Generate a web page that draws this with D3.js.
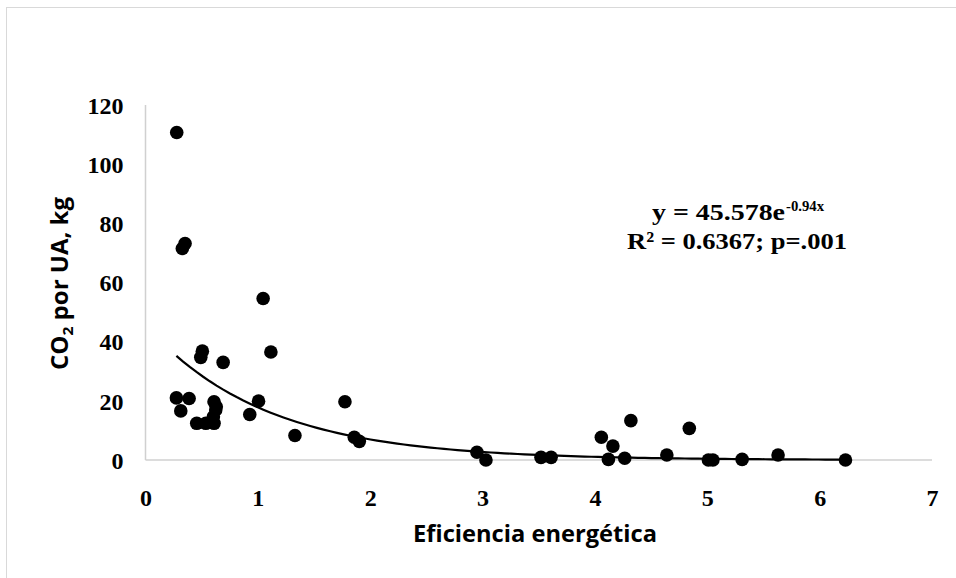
<!DOCTYPE html>
<html>
<head>
<meta charset="utf-8">
<script src="https://cdn.jsdelivr.net/npm/d3@7"></script>
<style>
  body { margin: 0; background: #fff; }
  svg { display: block; }
  .serif { font-family: "Liberation Serif", "Times New Roman", serif; font-weight: bold; }
  .sans { font-family: "Open Sans", "Noto Sans", sans-serif; font-weight: bold; }
</style>
</head>
<body>
<div id="chart"></div>
<script>
// eficiencia energética (x) vs CO2 por UA, kg (y)
const effValues = [0.278, 0.352, 0.328, 1.047, 0.506, 0.492, 0.691, 1.116, 0.275, 0.388,
  0.314, 0.61, 0.63, 0.625, 0.604, 0.456, 0.537, 0.61, 1.006, 0.928,
  1.33, 1.775, 1.858, 1.903, 2.95, 3.03, 3.52, 3.61, 4.057, 4.16,
  4.32, 4.12, 4.265, 4.64, 4.84, 5.01, 5.05, 5.31, 5.63, 6.23];
const co2Values = [110.7, 73.2, 71.5, 54.6, 36.8, 34.7, 33.0, 36.5, 21.0, 20.8,
  16.6, 19.7, 18.0, 16.9, 14.6, 12.4, 12.4, 12.4, 19.9, 15.4,
  8.3, 19.7, 7.7, 6.3, 2.6, 0, 0.9, 0.9, 7.7, 4.7,
  13.3, 0.2, 0.6, 1.7, 10.7, 0, 0, 0.2, 1.7, 0];
const xTicks = [0, 1, 2, 3, 4, 5, 6, 7];
const yTicks = [0, 20, 40, 60, 80, 100, 120];
// trendline y = a * e^(b x)
const trendA = 45.578;
const trendB = -0.94;

const width = 956, height = 578;
const svg = d3.select("#chart").append("svg")
  .attr("width", width).attr("height", height);

// outer chart border
svg.append("rect")
  .attr("x", 6.5).attr("y", 7.5)
  .attr("width", 1000).attr("height", 1000)
  .attr("fill", "none").attr("stroke", "#d9d9d9");

const xScale = d3.scaleLinear().domain([0, 7]).range([145.5, 932]);
const yScale = d3.scaleLinear().domain([0, 120]).range([460, 105]);

// axis lines
svg.append("line")
  .attr("x1", xScale(0)).attr("x2", xScale(7))
  .attr("y1", yScale(0)).attr("y2", yScale(0))
  .attr("stroke", "#d0d0d0").attr("stroke-width", 1.5);
svg.append("line")
  .attr("x1", xScale(0)).attr("x2", xScale(0))
  .attr("y1", yScale(0)).attr("y2", yScale(120))
  .attr("stroke", "#d0d0d0").attr("stroke-width", 1.5);

const xAxis = d3.axisBottom(xScale).tickValues(xTicks)
  .tickFormat(d3.format("d")).tickSize(0).tickPadding(0);
svg.append("g")
  .attr("transform", `translate(0, ${yScale(0)})`)
  .call(xAxis)
  .call((g) => g.select(".domain").remove())
  .call((g) => g.selectAll("text")
    .attr("class", "serif")
    .attr("y", 46).attr("dy", null)
    .attr("font-size", 24).attr("fill", "#000"));

const yAxis = d3.axisLeft(yScale).tickValues(yTicks)
  .tickFormat(d3.format("d")).tickSize(0).tickPadding(0);
svg.append("g")
  .attr("transform", `translate(${xScale(0)}, 0)`)
  .call(yAxis)
  .call((g) => g.select(".domain").remove())
  .call((g) => g.selectAll("text")
    .attr("class", "serif")
    .attr("x", -22).attr("dy", "0.34em")
    .attr("font-size", 24).attr("fill", "#000"));

// trendline over data range
const [xMin, xMax] = d3.extent(effValues);
const trendPts = d3.range(0, 101).map((i) => {
  const x = xMin + (xMax - xMin) * i / 100;
  return [x, trendA * Math.exp(trendB * x)];
});
svg.append("path")
  .datum(trendPts)
  .attr("d", d3.line().x((d) => xScale(d[0])).y((d) => yScale(d[1])))
  .attr("fill", "none").attr("stroke", "#000").attr("stroke-width", 2.2);

// points
const points = effValues.map((x, i) => ({ x, y: co2Values[i] }));
svg.append("g").selectAll("circle")
  .data(points)
  .join("circle")
  .attr("cx", (d) => xScale(d.x))
  .attr("cy", (d) => yScale(d.y))
  .attr("r", 6.8)
  .attr("fill", "#000");

// axis titles
svg.append("text")
  .attr("class", "sans")
  .attr("x", 413).attr("y", 542)
  .attr("textLength", 244).attr("lengthAdjust", "spacingAndGlyphs")
  .attr("font-size", 23).attr("fill", "#000")
  .text("Eficiencia energética");

const yTitle = svg.append("text")
  .attr("class", "sans")
  .attr("transform", "translate(68, 370) rotate(-90)")
  .attr("font-size", 23).attr("fill", "#000")
  .attr("textLength", 173).attr("lengthAdjust", "spacingAndGlyphs");
yTitle.append("tspan").text("CO");
yTitle.append("tspan").attr("font-size", 15).attr("dy", 5).text("2");
yTitle.append("tspan").attr("dy", -5).text(" por UA, kg");

// equation
svg.append("text")
  .attr("class", "serif")
  .attr("x", 652).attr("y", 220)
  .attr("textLength", 133).attr("lengthAdjust", "spacingAndGlyphs")
  .attr("font-size", 24).attr("fill", "#000")
  .text("y = 45.578e");
svg.append("text")
  .attr("class", "serif")
  .attr("x", 786).attr("y", 211)
  .attr("textLength", 38).attr("lengthAdjust", "spacingAndGlyphs")
  .attr("font-size", 15).attr("fill", "#000")
  .text("-0.94x");
svg.append("text")
  .attr("class", "serif")
  .attr("x", 627).attr("y", 249)
  .attr("textLength", 220).attr("lengthAdjust", "spacingAndGlyphs")
  .attr("font-size", 24).attr("fill", "#000")
  .text("R² = 0.6367; p=.001");
</script>
</body>
</html>
